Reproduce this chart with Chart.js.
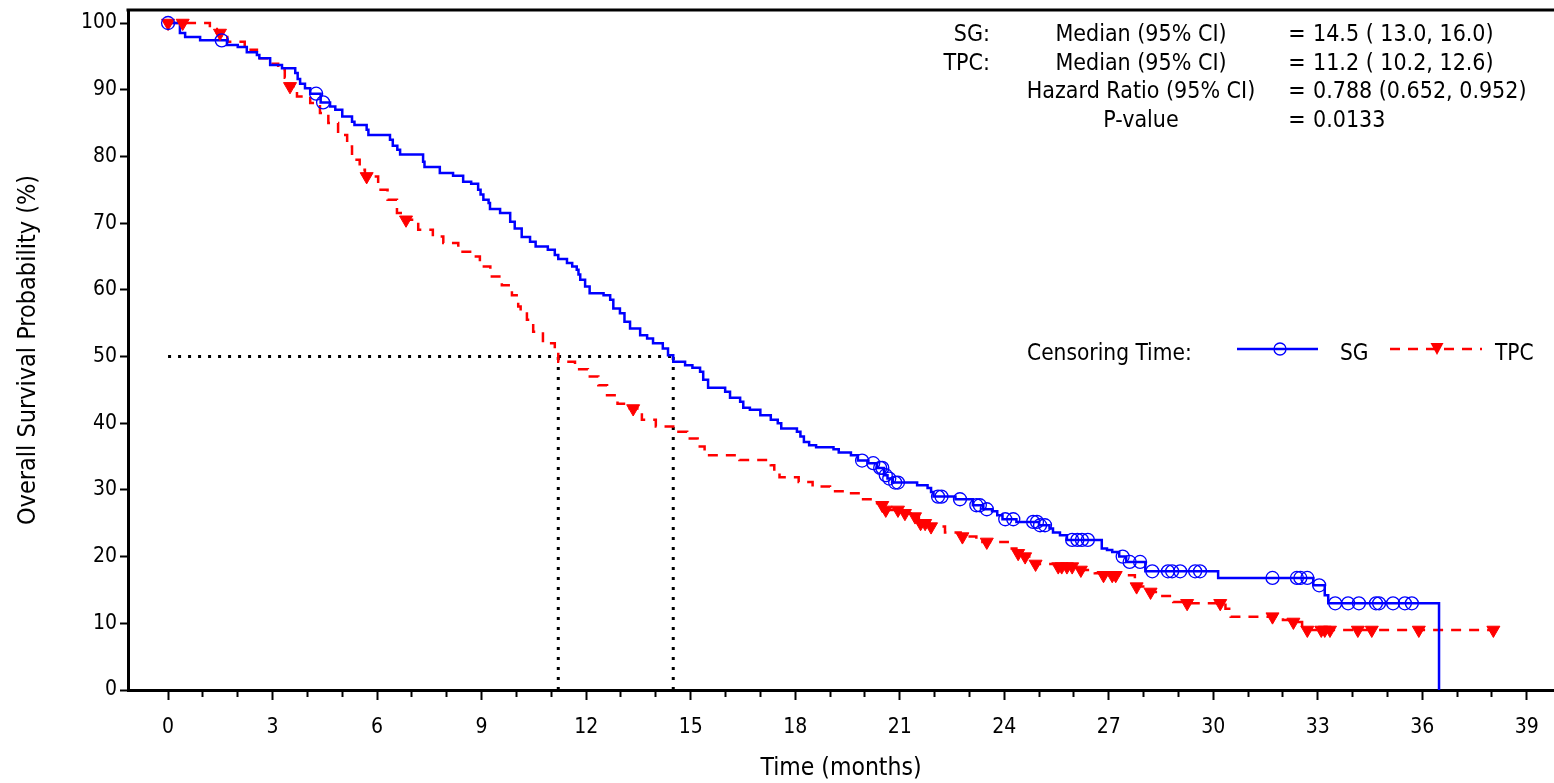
<!DOCTYPE html>
<html>
<head>
<meta charset="utf-8">
<title>Overall Survival - SG vs TPC</title>
<script src="https://cdn.jsdelivr.net/npm/chart.js@4.4.1/dist/chart.umd.min.js"></script>
<style>
  html, body { margin: 0; padding: 0; background: #fff; overflow: hidden; }
  #wrap { width: 1554px; height: 783px; }
  canvas { display: block; }
</style>
</head>
<body>
<div id="wrap"><canvas id="km" width="1554" height="783"></canvas></div>
<script>
// Kaplan-Meier step vertices (months, % surviving after each drop)
const sgTime = [0, 0.34, 0.49, 0.92, 1.69, 2.0, 2.26, 2.55, 2.62, 2.93, 3.27, 3.65, 3.72, 3.79, 3.93, 4.08, 4.38, 4.65, 4.8, 5.0,
  5.28, 5.35, 5.7, 5.75, 6.37, 6.45, 6.58, 6.66, 7.32, 7.36, 7.8, 8.18, 8.47, 8.7, 8.9, 8.97, 9.05, 9.2, 9.24, 9.53,
  9.82, 9.95, 10.15, 10.39, 10.55, 10.9, 11.1, 11.2, 11.45, 11.6, 11.73, 11.78, 11.83, 11.97, 12.1, 12.5, 12.69, 12.78, 12.97, 13.1,
  13.26, 13.55, 13.75, 13.92, 14.2, 14.35, 14.5, 14.84, 15.05, 15.27, 15.36, 15.5, 15.99, 16.13, 16.42, 16.51, 16.7, 17.0, 17.3, 17.5,
  17.6, 18.05, 18.15, 18.25, 18.4, 18.6, 19.1, 19.25, 19.6, 19.8, 20.1, 20.35, 20.55, 20.65, 20.8, 21.5, 21.8, 21.9, 21.97, 22.6,
  23.1, 23.4, 23.65, 23.8, 23.95, 24.35, 25.0, 25.3, 25.4, 25.6, 25.8, 26.8, 26.95, 27.1, 27.3, 27.5, 28.05, 30.14, 32.87, 33.2,
  33.3, 36.48];
const sgSurv = [100, 98.5, 97.9, 97.4, 96.7, 96.4, 95.6, 95.2, 94.7, 93.7, 93.2, 92.5, 91.6, 90.9, 90.2, 89.4, 88.1, 87.5, 87.0, 86.0,
  85.2, 84.7, 84.0, 83.2, 82.5, 81.6, 81.0, 80.3, 79.2, 78.4, 77.5, 77.1, 76.2, 75.9, 75.0, 74.3, 73.5, 73.0, 72.1, 71.5,
  70.2, 69.2, 67.9, 67.2, 66.5, 66.0, 65.2, 64.6, 64.0, 63.5, 63.0, 62.3, 61.5, 60.5, 59.5, 59.2, 58.5, 57.2, 56.5, 55.2,
  54.2, 53.2, 52.7, 52.0, 51.2, 50.2, 49.2, 48.7, 48.3, 47.7, 46.5, 45.3, 44.7, 43.8, 43.2, 42.3, 42.0, 41.2, 40.5, 40.0,
  39.2, 38.7, 38.0, 37.2, 36.7, 36.4, 36.1, 35.6, 35.2, 34.4, 34.0, 33.3, 32.2, 31.7, 31.1, 30.7, 30.3, 29.7, 29.0, 28.6,
  27.7, 27.1, 26.8, 26.2, 25.6, 25.2, 24.7, 24.2, 23.6, 23.2, 22.5, 21.2, 21.0, 20.7, 20.0, 19.2, 17.8, 16.8, 15.7, 14.2,
  13.0, 0];
const sgCensorTime = [0, 1.54, 4.25, 4.45, 19.92, 20.24, 20.44, 20.5, 20.6, 20.7, 20.87, 20.95, 22.1, 22.2, 22.73, 23.2, 23.3, 23.5,
  24.03, 24.26, 24.83, 24.94, 25.03, 25.17, 25.95, 26.1, 26.23, 26.4, 27.4, 27.6, 27.9, 28.25, 28.7, 28.82, 29.05, 29.48, 29.62,
  31.7, 32.4, 32.5, 32.7, 33.04, 33.5, 33.87, 34.18, 34.67, 34.76, 35.16, 35.5, 35.7];

const tpcTime = [0, 1.2, 1.4, 1.7, 2.2, 2.55, 2.87, 3.16, 3.35, 3.45, 3.7, 4.08, 4.36, 4.6, 4.88, 5.14, 5.28, 5.5, 5.65, 6.03,
  6.3, 6.57, 6.75, 7.18, 7.6, 7.9, 8.33, 8.67, 8.95, 9.25, 9.58, 9.87, 10.05, 10.12, 10.3, 10.48, 10.76, 11.1, 11.2, 11.68,
  12.05, 12.35, 12.6, 12.9, 13.2, 13.6, 14.0, 14.5, 14.9, 15.2, 15.4, 16.4, 17.3, 17.4, 17.55, 18.1, 18.5, 19.0, 19.5, 19.86,
  20.24, 20.45, 20.58, 21.1, 21.4, 21.55, 21.85, 22.3, 22.75, 23.2, 24.1, 24.35, 24.55, 24.85, 25.5, 26.1, 26.6, 26.8, 27.75, 28.05,
  28.5, 28.85, 29.1, 30.35, 30.5, 32.0, 32.25, 32.55, 38.04];
const tpcSurv = [100, 99.1, 98.5, 97.2, 96.0, 94.7, 93.9, 93.0, 91.8, 90.5, 89.0, 88.0, 86.5, 85.0, 83.2, 81.5, 79.5, 78.0, 77.0, 75.0,
  73.5, 71.5, 70.5, 69.0, 68.0, 67.0, 65.7, 65.0, 63.5, 62.0, 60.7, 59.2, 57.5, 56.7, 55.5, 53.7, 52.0, 50.7, 49.2, 48.1,
  47.0, 45.7, 44.2, 42.9, 42.2, 40.5, 39.5, 38.7, 37.7, 36.5, 35.2, 34.5, 33.7, 32.6, 31.9, 31.2, 30.5, 29.8, 29.5, 28.6,
  28.0, 27.7, 27.0, 26.5, 26.0, 25.0, 24.5, 23.6, 23.0, 22.2, 21.2, 20.5, 20.0, 18.9, 18.5, 18.0, 17.5, 17.2, 15.5, 14.7,
  14.1, 13.2, 13.0, 12.2, 11.0, 10.5, 10.2, 9.0, 9.0];
const tpcCensorTime = [0, 0.42, 1.49, 3.5, 5.7, 6.83, 13.35, 20.5, 20.6, 20.95, 21.15, 21.44, 21.6, 21.73, 21.9, 22.8, 23.5, 24.4,
  24.6, 24.9, 25.55, 25.65, 25.8, 25.95, 26.2, 26.85, 27.1, 27.2, 27.8, 28.2, 29.25, 30.2, 31.7, 32.3, 32.7, 33.1, 33.2, 33.35,
  34.15, 34.55, 35.9, 38.04];

// median survival (months) and the 50% reference level
const medianSG = 14.5;
const medianTPC = 11.2;
const medianLevel = 50;

// axis ticks
const xTickLabels = [0, 3, 6, 9, 12, 15, 18, 21, 24, 27, 30, 33, 36, 39];
const yTickLabels = [0, 10, 20, 30, 40, 50, 60, 70, 80, 90, 100];

// summary statistics block
const statGroups = ['SG:', 'TPC:', '', ''];
const statNames = ['Median (95% CI)', 'Median (95% CI)', 'Hazard Ratio (95% CI)', 'P-value'];
const statValues = ['14.5 ( 13.0, 16.0)', '11.2 ( 10.2, 12.6)', '0.788 (0.652, 0.952)', '0.0133'];

const FONT = '"DejaVu Sans Condensed", "DejaVu Sans", sans-serif';
const BLUE = '#0000ff';
const RED = '#ff0000';
const TPC_DASH = [10, 8];

const toPoints = (xs, ys) => xs.map((x, i) => ({ x: x, y: ys[i] }));

// survival level of a step curve at time t (censor marks sit on the curve)
function survivalAt(times, survs, t) {
  let s = survs[0];
  for (let i = 0; i < times.length; i++) {
    if (times[i] <= t) s = survs[i];
    else break;
  }
  return s;
}

const censorPoints = (ct, times, survs) => ct.map(t => ({ x: t, y: survivalAt(times, survs, t) }));

// minor ticks every month, labelled ones every 3
const monthTicks = [];
for (let m = 0; m <= xTickLabels[xTickLabels.length - 1]; m++) monthTicks.push(m);

const medianStyle = {
  type: 'line',
  borderColor: '#000',
  borderWidth: 3,
  borderDash: [3, 7],
  borderCapStyle: 'butt',
  pointRadius: 0,
  fill: false,
  order: 5
};

/**
 * Draws the frame top, the statistics block and the censoring legend
 */
const kmDecor = {
  id: 'kmDecor',
  afterDraw(chart) {
    const ctx = chart.ctx;
    const area = chart.chartArea;
    ctx.save();

    // upper frame edge
    ctx.strokeStyle = '#000';
    ctx.lineWidth = 3;
    ctx.beginPath();
    ctx.moveTo(area.left - 1.5, area.top);
    ctx.lineTo(area.right, area.top);
    ctx.stroke();

    // statistics
    ctx.fillStyle = '#000';
    ctx.font = '23px ' + FONT;
    ctx.textBaseline = 'middle';
    statNames.forEach((name, i) => {
      const y = 35 + i * 28.7;
      ctx.textAlign = 'right';
      ctx.fillText(statGroups[i], 990, y);
      ctx.textAlign = 'center';
      ctx.fillText(name, 1141, y);
      ctx.fillText('=', 1297, y);
      ctx.textAlign = 'left';
      ctx.fillText(statValues[i], 1313, y);
    });

    // legend
    const ly = 354;
    ctx.font = '22.5px ' + FONT;
    ctx.textAlign = 'left';
    ctx.fillText('Censoring Time:', 1027, ly);

    ctx.strokeStyle = BLUE;
    ctx.lineWidth = 2.5;
    ctx.beginPath();
    ctx.moveTo(1237, ly - 5);
    ctx.lineTo(1318, ly - 5);
    ctx.stroke();
    ctx.lineWidth = 1.3;
    ctx.beginPath();
    ctx.arc(1280, ly - 5, 6, 0, Math.PI * 2);
    ctx.stroke();
    ctx.fillText('SG', 1340, ly);

    ctx.strokeStyle = RED;
    ctx.lineWidth = 2.5;
    ctx.setLineDash(TPC_DASH);
    ctx.beginPath();
    ctx.moveTo(1390, ly - 5);
    ctx.lineTo(1482, ly - 5);
    ctx.stroke();
    ctx.setLineDash([]);
    ctx.fillStyle = RED;
    ctx.beginPath();
    ctx.moveTo(1430.5, ly - 11);
    ctx.lineTo(1443.5, ly - 11);
    ctx.lineTo(1437, ly + 1);
    ctx.closePath();
    ctx.fill();
    ctx.fillStyle = '#000';
    ctx.fillText('TPC', 1495, ly);

    ctx.restore();
  }
};

new Chart(document.getElementById('km'), {
  type: 'line',
  data: {
    datasets: [
      {
        label: 'SG',
        data: toPoints(sgTime, sgSurv),
        borderColor: BLUE,
        borderWidth: 2.5,
        stepped: 'before',
        pointRadius: 0,
        fill: false,
        order: 2
      },
      {
        label: 'TPC',
        data: toPoints(tpcTime, tpcSurv),
        borderColor: RED,
        borderWidth: 2.5,
        borderDash: TPC_DASH,
        stepped: 'before',
        pointRadius: 0,
        fill: false,
        order: 3
      },
      {
        label: 'SG censored',
        data: censorPoints(sgCensorTime, sgTime, sgSurv),
        showLine: false,
        pointStyle: 'circle',
        pointRadius: 6.5,
        pointBorderWidth: 1.3,
        pointBorderColor: BLUE,
        pointBackgroundColor: 'rgba(0,0,0,0)',
        order: 1
      },
      {
        label: 'TPC censored',
        data: censorPoints(tpcCensorTime, tpcTime, tpcSurv),
        showLine: false,
        pointStyle: 'triangle',
        pointRotation: 180,
        pointRadius: 7.5,
        pointBorderWidth: 1,
        pointBorderColor: RED,
        pointBackgroundColor: RED,
        order: 1
      },
      Object.assign({ label: 'median level', data: [{ x: 0, y: medianLevel }, { x: medianSG, y: medianLevel }] }, medianStyle),
      Object.assign({ label: 'TPC median', data: [{ x: medianTPC, y: 0 }, { x: medianTPC, y: medianLevel }] }, medianStyle),
      Object.assign({ label: 'SG median', data: [{ x: medianSG, y: 0 }, { x: medianSG, y: medianLevel }] }, medianStyle)
    ]
  },
  options: {
    responsive: false,
    animation: false,
    devicePixelRatio: 1,
    events: [],
    layout: { autoPadding: false, padding: { top: 10, right: 0, bottom: 0, left: 0 } },
    plugins: {
      legend: { display: false },
      tooltip: { enabled: false }
    },
    scales: {
      x: {
        type: 'linear',
        min: -1.15,
        max: 39.78,
        afterBuildTicks: scale => { scale.ticks = monthTicks.map(v => ({ value: v })); },
        afterFit: scale => {
          scale.height = 93;
          scale.paddingLeft = 0;
          scale.paddingRight = 0;
        },
        ticks: {
          autoSkip: false,
          maxRotation: 0,
          padding: 15,
          color: '#000',
          font: { family: FONT, size: 21 },
          callback: v => (xTickLabels.includes(v) ? String(v) : '')
        },
        grid: {
          drawOnChartArea: false,
          tickLength: 10,
          tickWidth: 2,
          tickColor: '#000',
          tickBorderDash: c => (c.tick && !xTickLabels.includes(c.tick.value) ? [5, 30] : [])
        },
        border: { display: true, color: '#000', width: 3 },
        title: {
          display: true,
          text: 'Time (months)',
          color: '#000',
          font: { family: FONT, size: 24.5 },
          padding: { top: 0, bottom: 0 }
        }
      },
      y: {
        type: 'linear',
        min: 0,
        max: 101.95,
        afterBuildTicks: scale => { scale.ticks = yTickLabels.map(v => ({ value: v })); },
        afterFit: scale => {
          scale.width = 128;
          scale.paddingTop = 0;
          scale.paddingBottom = 0;
        },
        ticks: {
          padding: 3,
          color: '#000',
          font: { family: FONT, size: 21 }
        },
        grid: {
          drawOnChartArea: false,
          tickLength: 8,
          tickWidth: 2,
          tickColor: '#000'
        },
        border: { display: true, color: '#000', width: 3 },
        title: {
          display: true,
          text: 'Overall Survival Probability (%)',
          color: '#000',
          font: { family: FONT, size: 25 },
          padding: { top: 13, bottom: 0 }
        }
      }
    }
  },
  plugins: [kmDecor]
});
</script>
</body>
</html>
